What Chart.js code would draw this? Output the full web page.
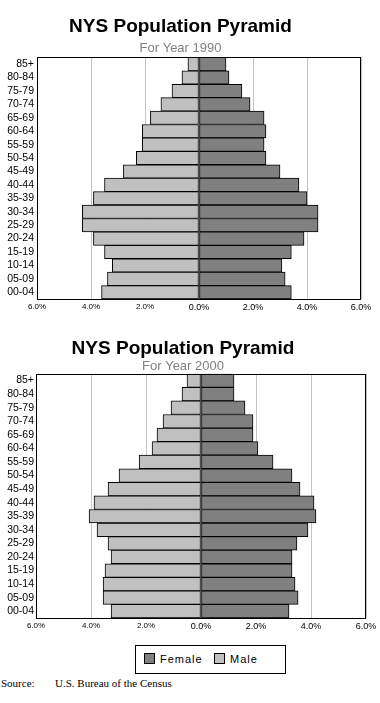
<!DOCTYPE html>
<html>
<head>
<meta charset="utf-8">
<script src="https://cdn.jsdelivr.net/npm/chart.js@4.4.1/dist/chart.umd.min.js"></script>
<style>
  html, body { margin: 0; padding: 0; background: #fff; overflow: hidden; }
  body { width: 380px; height: 703px; position: relative; font-family: 'Liberation Sans', Arial, sans-serif; }
  .wrap { position: absolute; left: 0; width: 380px; }
  .legend { position: absolute; left: 135px; top: 645px; width: 149px; height: 27px; border: 1px solid #000; font-size: 11px; letter-spacing: 1px; }
  .legend span.item { position: absolute; top: 7px; line-height: 13px; }
  .legend i { display: inline-block; width: 9px; height: 9px; border: 1px solid #000; vertical-align: -1px; margin-right: 5px; }
  .source { position: absolute; top: 677px; font-family: 'Liberation Serif', 'Times New Roman', serif; font-size: 11px; }
</style>
</head>
<body>
<div class="wrap" style="top:0;height:318px"><canvas id="c1990"></canvas></div>
<div class="wrap" style="top:320px;height:317px"><canvas id="c2000"></canvas></div>
<div class="legend" id="legend"></div>
<div class="source" style="left:1px">Source:</div>
<div class="source" style="left:55px">U.S. Bureau of the Census</div>

<script>
// ── Data (percent of total population) ──
const ageGroups = ['85+', '80-84', '75-79', '70-74', '65-69', '60-64', '55-59', '50-54', '45-49',
                   '40-44', '35-39', '30-34', '25-29', '20-24', '15-19', '10-14', '05-09', '00-04'];

const male1990   = [0.41, 0.63, 1.00, 1.41, 1.80, 2.10, 2.10, 2.32, 2.80, 3.50, 3.91, 4.32, 4.32, 3.91, 3.50, 3.21, 3.39, 3.61];
const female1990 = [1.00, 1.11, 1.59, 1.89, 2.41, 2.48, 2.41, 2.48, 3.00, 3.70, 4.00, 4.41, 4.41, 3.89, 3.42, 3.07, 3.19, 3.42];

const male2000   = [0.51, 0.69, 1.09, 1.38, 1.60, 1.78, 2.25, 2.98, 3.38, 3.89, 4.07, 3.78, 3.38, 3.27, 3.49, 3.56, 3.56, 3.27];
const female2000 = [1.20, 1.20, 1.60, 1.89, 1.89, 2.07, 2.62, 3.31, 3.60, 4.11, 4.18, 3.89, 3.49, 3.31, 3.31, 3.42, 3.53, 3.20];

const xTicks = [-6, -4, -2, 0, 2, 4, 6];

const FONT = "'Liberation Sans', Arial, sans-serif";
const MALE_COLOR = '#c0c0c0';
const FEMALE_COLOR = '#808080';

// kotak hitam di sekeliling area plot
const frame = {
  id: 'frame',
  afterDatasetsDraw(chart) {
    const a = chart.chartArea, ctx = chart.ctx;
    ctx.save();
    ctx.strokeStyle = '#000';
    ctx.lineWidth = 1;
    ctx.strokeRect(Math.round(a.left) + 0.5, Math.round(a.top) + 0.5,
                   Math.round(a.right - a.left) - 1, Math.round(a.bottom - a.top));
    ctx.restore();
  }
};

function pyramid(id, year, male, female, g) {
  new Chart(document.getElementById(id), {
    type: 'bar',
    data: {
      labels: ageGroups,
      datasets: [
        { label: 'Male', data: male.map(v => -v), backgroundColor: MALE_COLOR },
        { label: 'Female', data: female, backgroundColor: FEMALE_COLOR },
      ],
    },
    options: {
      indexAxis: 'y',
      responsive: true, maintainAspectRatio: false,
      animation: false,
      layout: { padding: { left: 0, right: g.right, top: 0, bottom: 0 } },
      datasets: { bar: { barPercentage: 1, categoryPercentage: 1, borderColor: '#000', borderWidth: 1, borderSkipped: false } },
      plugins: {
        legend: { display: false },
        tooltip: { enabled: false },
        title: {
          display: true, text: 'NYS Population Pyramid', color: '#000',
          font: { family: FONT, size: 19, weight: 'bold', lineHeight: 1.2 },
          padding: { top: g.titleTop, bottom: g.titleBottom },
        },
        subtitle: {
          display: true, text: 'For Year ' + year, color: '#808080',
          font: { family: FONT, size: 13, lineHeight: g.subLine },
          padding: { top: 0, bottom: g.subBottom },
        },
      },
      scales: {
        x: {
          stacked: true, min: -6, max: 6,
          afterBuildTicks: s => { s.ticks = xTicks.map(v => ({ value: v })); },
          afterFit: s => { s.height = 19; },
          border: { display: false },
          grid: { color: '#c4c4c4', drawTicks: false },
          ticks: {
            padding: 3, color: '#000',
            font: c => ({ family: FONT, size: c.tick && c.tick.value < 0 ? 8 : 9 }),
            callback: v => Math.abs(v).toFixed(1) + '%',
          },
        },
        y: {
          stacked: true,
          afterFit: s => { s.width = g.yWidth; },
          border: { display: false },
          grid: { display: false, drawTicks: false },
          ticks: { autoSkip: false, padding: g.yPad, color: '#000', font: { family: FONT, size: 10.5 } },
        },
      },
    },
    plugins: [frame],
  });
}

pyramid('c1990', 1990, male1990, female1990,
  { right: 19, yWidth: 37, yPad: 3, titleTop: 15, titleBottom: 3, subLine: 1.2, subBottom: 1 });
pyramid('c2000', 2000, male2000, female2000,
  { right: 14, yWidth: 36, yPad: 2, titleTop: 17, titleBottom: 0, subLine: 1, subBottom: 1 });

// legenda bersama
const legendItems = [['Female', FEMALE_COLOR, 8], ['Male', MALE_COLOR, 78]];
document.getElementById('legend').innerHTML = legendItems
  .map(([t, c, x]) => `<span class="item" style="left:${x}px"><i style="background:${c}"></i>${t}</span>`)
  .join('');
</script>
</body>
</html>
